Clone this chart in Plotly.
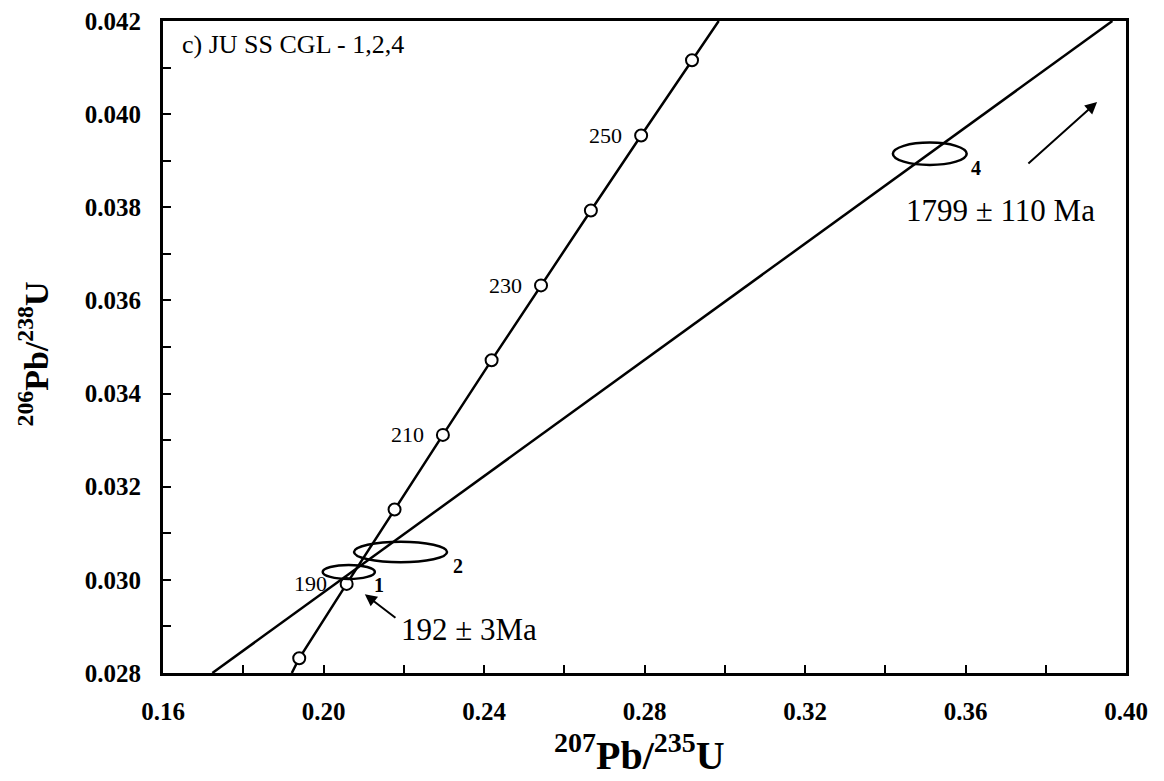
import plotly.graph_objects as go

# Concordia ages and ratios
conc_ages = [180, 190, 200, 210, 220, 230, 240, 250, 260]
conc_x = [0.19395, 0.20577, 0.21771, 0.22976, 0.24190, 0.25421, 0.26664, 0.27916, 0.29184]
conc_y = [0.028316, 0.029913, 0.031511, 0.033113, 0.034717, 0.036323, 0.037932, 0.039543, 0.041157]
conc_ends_x = [0.1921, 0.2985]
conc_ends_y = [0.028, 0.042]
labelled_ages = [190, 210, 230, 250]

# Discordia line
disc_x = [0.1723, 0.3966]
disc_y = [0.028, 0.042]

# Error ellipses
ell_labels = ["1", "2", "4"]
ell_cx = [0.2063, 0.2192, 0.3511]
ell_cy = [0.03017, 0.0306, 0.03915]
ell_rx = [0.0065, 0.0116, 0.0092]
ell_ry = [0.00015, 0.00022, 0.00024]
ell_lab_x = [0.2138, 0.2335, 0.3626]
ell_lab_y = [0.02989, 0.03029, 0.03885]

# Age results
age_texts = ["192 ± 3Ma", "1799 ± 110 Ma"]
age_text_x = [0.2363, 0.3686]
age_text_y = [0.02894, 0.03793]
arrow_head_x = [0.2103, 0.3928]
arrow_head_y = [0.02969, 0.04026]
arrow_tail_x = [0.2183, 0.3753]
arrow_tail_y = [0.02916, 0.03891]

SERIF = "Liberation Serif, Times New Roman, serif"

fig = go.Figure()
line_x = [conc_ends_x[0]] + conc_x + [conc_ends_x[1]]
line_y = [conc_ends_y[0]] + conc_y + [conc_ends_y[1]]
fig.add_trace(go.Scatter(x=line_x, y=line_y, mode="lines",
                         line=dict(color="black", width=2.5), hoverinfo="skip"))
fig.add_trace(go.Scatter(x=disc_x, y=disc_y, mode="lines",
                         line=dict(color="black", width=2.5), hoverinfo="skip"))
fig.add_trace(go.Scatter(x=conc_x, y=conc_y, mode="markers",
                         marker=dict(symbol="circle", size=12, color="white",
                                     line=dict(color="black", width=2))))

for cx, cy, rx, ry in zip(ell_cx, ell_cy, ell_rx, ell_ry):
    fig.add_shape(type="circle", xref="x", yref="y",
                  x0=cx - rx, x1=cx + rx, y0=cy - ry, y1=cy + ry,
                  line=dict(color="black", width=2.5))

for lab, lx, ly in zip(ell_labels, ell_lab_x, ell_lab_y):
    fig.add_annotation(x=lx, y=ly, text=lab, showarrow=False,
                       font=dict(family=SERIF, size=20, color="black", weight="bold"))

for age, ax_, ay_ in zip(conc_ages, conc_x, conc_y):
    if age in labelled_ages:
        fig.add_annotation(x=ax_ - 0.0043, y=ay_, text=str(age), showarrow=False,
                           xanchor="right", yanchor="middle",
                           font=dict(family=SERIF, size=22, color="black"))

for t, tx, ty in zip(age_texts, age_text_x, age_text_y):
    fig.add_annotation(x=tx, y=ty, text=t, showarrow=False,
                       font=dict(family=SERIF, size=31, color="black"))

for hx, hy, tx, ty in zip(arrow_head_x, arrow_head_y, arrow_tail_x, arrow_tail_y):
    fig.add_annotation(x=hx, y=hy, ax=tx, ay=ty, axref="x", ayref="y",
                       xref="x", yref="y", text="", showarrow=True,
                       arrowhead=2, arrowsize=1.2, arrowwidth=2, arrowcolor="black")

fig.add_annotation(x=0.018, y=0.99, xref="paper", yref="paper",
                   text="c) JU SS CGL - 1,2,4", showarrow=False,
                   xanchor="left", yanchor="top",
                   font=dict(family=SERIF, size=26, color="black"))

# Axis titles
fig.add_annotation(x=0.495, y=-0.122, xref="paper", yref="paper",
                   text="<sup>207</sup>Pb/<sup>235</sup>U", showarrow=False,
                   xanchor="center", yanchor="middle",
                   font=dict(family=SERIF, size=40, color="black", weight="bold"))
fig.add_annotation(x=-0.135, y=0.49, xref="paper", yref="paper",
                   text="<sup>206</sup>Pb/<sup>238</sup>U", showarrow=False,
                   textangle=-90, xanchor="center", yanchor="middle",
                   font=dict(family=SERIF, size=34, color="black", weight="bold"))

fig.update_xaxes(range=[0.16, 0.40], dtick=0.04, tick0=0.16, tickformat=".2f",
                 ticks="inside", ticklen=8, tickwidth=2, tickcolor="black",
                 minor=dict(dtick=0.02, ticks="inside", ticklen=8, tickwidth=2, tickcolor="black"),
                 showline=True, linewidth=3, linecolor="black", mirror=True,
                 showgrid=False, zeroline=False, ticklabelstandoff=14,
                 ticklabeloverflow="allow", automargin=False,
                 tickfont=dict(family=SERIF, size=25, color="black", weight="bold"))
fig.update_yaxes(range=[0.028, 0.042], dtick=0.002, tick0=0.028, tickformat=".3f",
                 ticks="inside", ticklen=8, tickwidth=2, tickcolor="black",
                 minor=dict(dtick=0.001, ticks="inside", ticklen=8, tickwidth=2, tickcolor="black"),
                 showline=True, linewidth=3, linecolor="black", mirror=True,
                 showgrid=False, zeroline=False, ticklabelstandoff=14,
                 ticklabeloverflow="allow", automargin=False,
                 tickfont=dict(family=SERIF, size=25, color="black", weight="bold"))

fig.update_layout(width=1164, height=781, showlegend=False,
                  plot_bgcolor="white", paper_bgcolor="white",
                  margin=dict(l=155, r=46, t=13, b=116))

fig.write_html("out.html")
